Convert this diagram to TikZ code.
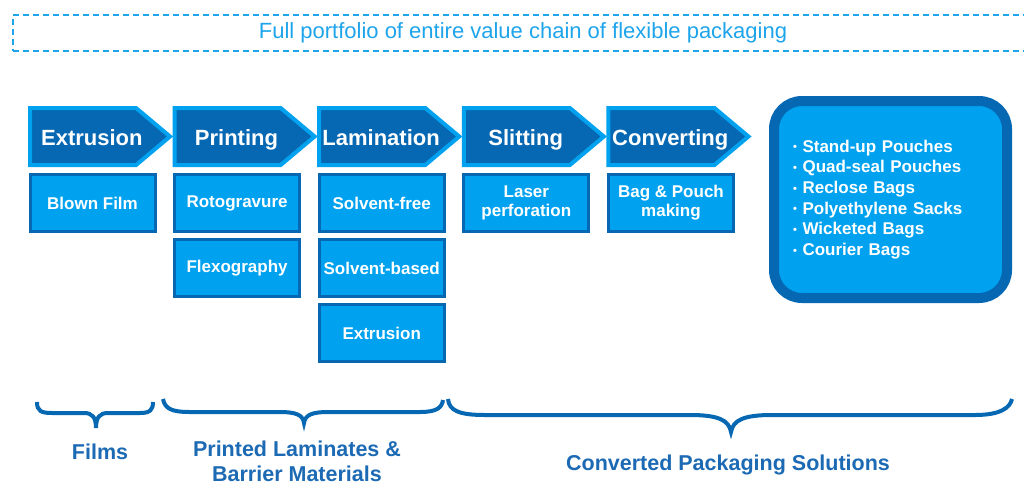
\documentclass[tikz,border=0pt]{standalone}
\usepackage{fontspec}
\setmainfont{Liberation Sans}
\usetikzlibrary{shapes.symbols,calc,positioning}
\definecolor{darkblue}{RGB}{6,103,178}
\definecolor{lightblue}{RGB}{0,162,240}
\definecolor{titleblue}{RGB}{30,164,235}
\definecolor{labelblue}{RGB}{28,106,180}
\newcommand{\blt}{\raisebox{1.5pt}{\fontsize{11pt}{11pt}\selectfont •}\ }
\tikzset{
  stage/.style={signal,signal to=east,signal from=nowhere,signal pointer angle=80,
    fill=darkblue,draw=lightblue,line width=4pt,minimum width=140pt,minimum height=57pt,inner sep=0pt},
  stagetext/.style={text=white,text height=18pt,text depth=0pt,font=\bfseries\fontsize{22pt}{24pt}\selectfont},
  procbox/.style={rectangle,fill=lightblue,draw=darkblue,line width=3pt,minimum width=125pt,
    minimum height=57pt,inner sep=0pt,align=center,text=white,font=\bfseries\fontsize{17pt}{19pt}\selectfont},
  brc/.style={draw=darkblue,line width=4pt},
  grp/.style={text=labelblue,align=center,font=\bfseries\fontsize{21.5pt}{25pt}\selectfont}
}
\begin{document}
\begin{tikzpicture}[x=1pt,y=-1pt,node distance=-0.5pt]
  \useasboundingbox (0,0) rectangle (1024,485);
  % heading
  \node (HEAD) at (523,33) [draw=titleblue,dash pattern=on 6pt off 4pt,line width=1.5pt,
    minimum width=1020pt,minimum height=36pt,text=titleblue,font=\fontsize{22pt}{24pt}\selectfont]
    {Full portfolio of entire value chain of flexible packaging};
  % process chain
  \node (EXT) at (28,136.5) [stage,anchor=west] {};
  \node (PRT) [stage,right=of EXT] {};
  \node (LAM) [stage,right=of PRT] {};
  \node (SLT) [stage,right=of LAM] {};
  \node (CNV) [stage,right=of SLT] {};
  \node (EXTT) at ($(EXT.west)!0.44!(EXT.east)$) [stagetext] {Extrusion};
  \node (PRTT) at ($(PRT.west)!0.44!(PRT.east)$) [stagetext] {Printing};
  \node (LAMT) at ($(LAM.west)!0.44!(LAM.east)$) [stagetext] {Lamination};
  \node (SLTT) at ($(SLT.west)!0.44!(SLT.east)$) [stagetext] {Slitting};
  \node (CNVT) at ($(CNV.west)!0.44!(CNV.east)$) [stagetext] {Converting};
  % methods
  \node (BLF) at ($(EXT.west |- EXT.south)+(0.5,6)$) [procbox,anchor=north west] {Blown Film};
  \node (ROT) at ($(PRT.west |- PRT.south)+(0.5,6)$) [procbox,anchor=north west] {Rotogravure};
  \node (FLX) [procbox,below=5pt of ROT] {Flexography};
  \node (SVF) at ($(LAM.west |- LAM.south)+(0.5,6)$) [procbox,anchor=north west] {Solvent-free};
  \node (SVB) [procbox,below=5pt of SVF] {Solvent-based};
  \node (EXL) [procbox,below=5pt of SVB] {Extrusion};
  \node (LSR) at ($(SLT.west |- SLT.south)+(0.5,6)$) [procbox,anchor=north west] {Laser\\perforation};
  \node (BAG) at ($(CNV.west |- CNV.south)+(0.5,6)$) [procbox,anchor=north west] {Bag \& Pouch\\making};
  % products
  \node (PKG) at (890.5,199.5) [rectangle,rounded corners=28pt,fill=lightblue,draw=darkblue,line width=10pt,
    minimum width=233pt,minimum height=197pt,inner xsep=19pt,text width=195pt,align=left,text=white,
    font=\bfseries\fontsize{17pt}{20.7pt}\selectfont]
    {\blt Stand-up Pouches\\ \blt Quad-seal Pouches\\ \blt Reclose Bags\\
     \blt Polyethylene Sacks\\ \blt Wicketed Bags\\ \blt Courier Bags};
  % braces
  \draw[brc] (37,402) .. controls (37,411) and (41,413) .. (52,413) -- (84,413)
    .. controls (92,413) and (96,417) .. (96,428) .. controls (96,417) and (100,413) .. (108,413)
    -- (140,413) .. controls (150,413) and (153,410) .. (153,402);
  \draw[brc] (163,399) .. controls (165,409) and (172,412) .. (190,412) -- (280,412)
    .. controls (296,412) and (303,415) .. (304,423) .. controls (305,415) and (312,412) .. (328,412)
    -- (420,412) .. controls (436,412) and (442,408) .. (443,400);
  \draw[brc] (448,399) .. controls (449,411) and (460,415) .. (485,415) -- (690,415)
    .. controls (718,415) and (729,420) .. (731,432) .. controls (733,420) and (744,415) .. (772,415)
    -- (975,415) .. controls (1000,415) and (1010,408) .. (1012,399);
  % groups
  \node (FLM) at (100,452) [grp] {Films};
  \node (PLM) at (297,461) [grp] {Printed Laminates \&\\Barrier Materials};
  \node (CPS) at (728,465) [grp] {Converted Packaging Solutions};
\end{tikzpicture}
\end{document}
